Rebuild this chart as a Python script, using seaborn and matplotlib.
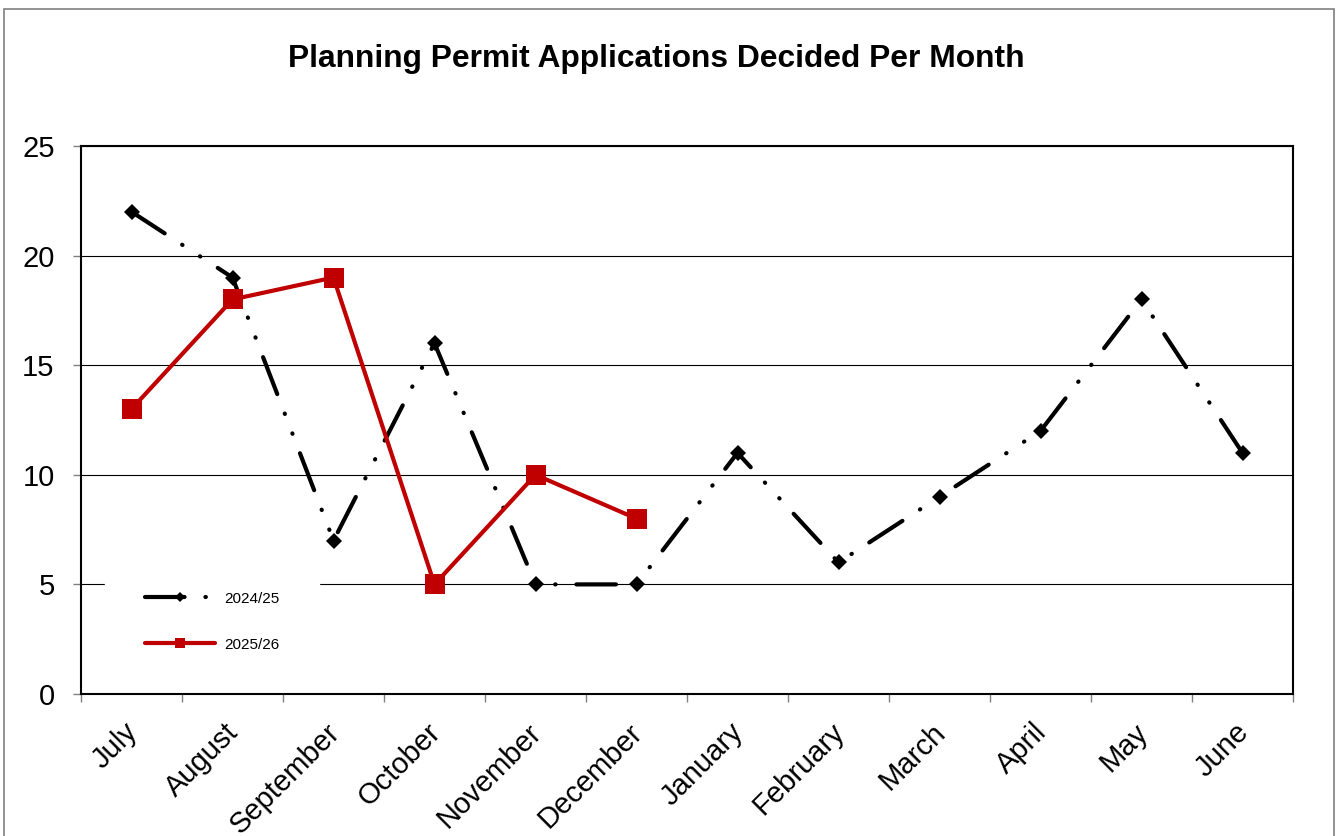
import numpy as np
import pandas as pd
import seaborn as sns
from matplotlib import pyplot as plt
from matplotlib.patches import Rectangle
from matplotlib.lines import Line2D
from matplotlib.transforms import ScaledTranslation

months = ["July", "August", "September", "October", "November", "December",
          "January", "February", "March", "April", "May", "June"]
decided_2425 = [22, 19, 7, 16, 5, 5, 11, 6, 9, 12, 18, 11]
decided_2526 = [13, 18, 19, 5, 10, 8]
seasons = ["2024/25", "2025/26"]

rows = []
for i, v in enumerate(decided_2425):
    rows.append({"month": i, "decided": v, "season": seasons[0]})
for i, v in enumerate(decided_2526):
    rows.append({"month": i, "decided": v, "season": seasons[1]})
df = pd.DataFrame(rows)

sns.set_style("white")
plt.rcParams["font.family"] = ["Liberation Sans", "DejaVu Sans"]
plt.rcParams["text.color"] = "black"

RED = "#c00000"
dash_dot_dot = (9.5, 5, 0.1, 5, 0.1, 5)

fig = plt.figure(figsize=(13.41, 8.36), dpi=100)
ax = fig.add_axes([81 / 1341, 1 - 694 / 836, 1212 / 1341, 548 / 836])

sns.lineplot(data=df, x="month", y="decided", hue="season", style="season",
             palette={"2024/25": "black", "2025/26": RED},
             dashes={"2024/25": dash_dot_dot, "2025/26": ""},
             markers={"2024/25": "D", "2025/26": "s"},
             ax=ax, linewidth=3, legend=False)

for line in ax.get_lines():
    line.set_dash_capstyle("round")
    line.set_markeredgewidth(0)
    if line.get_color() == "black":
        line.set_markersize(8)
    else:
        line.set_markersize(14)

ax.set_xlim(-0.5, 11.5)
ax.set_ylim(0, 25)
ax.set_yticks([0, 5, 10, 15, 20, 25])
ax.set_xticks(range(12))
ax.set_xticklabels([])
ax.set_xticks(np.arange(-0.5, 12, 1), minor=True)
ax.tick_params(axis="x", which="major", length=0)
ax.tick_params(axis="x", which="minor", length=6, width=1, color="#808080", direction="out", bottom=True)
ax.tick_params(axis="y", length=6, width=1, color="#808080", direction="out", left=True,
               labelsize=21, pad=13, labelcolor="black")
ax.set_xlabel("")
ax.set_ylabel("")
ax.yaxis.grid(True, color="black", linewidth=0.8)
ax.xaxis.grid(False)
for s in ax.spines.values():
    s.set_color("black")
    s.set_linewidth(1.5)

# month labels drawn as text so the rotated anchor sits where the reference has it
label_offset = ScaledTranslation(-8 / 100, -24 / 100, fig.dpi_scale_trans)
for i, m in enumerate(months):
    ax.text(i, 0, m, transform=ax.get_xaxis_transform() + label_offset,
            rotation=45, rotation_mode="anchor", ha="right", va="top",
            fontsize=21, color="black", clip_on=False)

legend_handles = [
    Line2D([], [], color="black", linewidth=3, dashes=dash_dot_dot, dash_capstyle="round",
           marker="D", markersize=5.5, markeredgewidth=0),
    Line2D([], [], color=RED, linewidth=3, marker="s", markersize=7, markeredgewidth=0),
]
leg = ax.legend(legend_handles, seasons, loc="upper left",
                bbox_to_anchor=(105 / 1341, 1 - 552 / 836), bbox_transform=fig.transFigure,
                borderaxespad=0, fontsize=11, frameon=True, fancybox=False,
                edgecolor="white", framealpha=1, handlelength=4.6, labelspacing=2.1,
                borderpad=2.6, handletextpad=0.6)
leg.set_zorder(2.4)  # keep the frame under the spines

fig.text(656 / 1341, 1 - 67 / 836, "Planning Permit Applications Decided Per Month",
         ha="center", va="baseline", fontsize=22.9, fontweight="bold")

fig.patches.append(Rectangle((4 / 1341, -0.1), 1330 / 1341, 1.1 - 9 / 836,
                             transform=fig.transFigure, fill=False,
                             edgecolor="#808080", linewidth=1.2))

fig.savefig("out.png", dpi=100)
